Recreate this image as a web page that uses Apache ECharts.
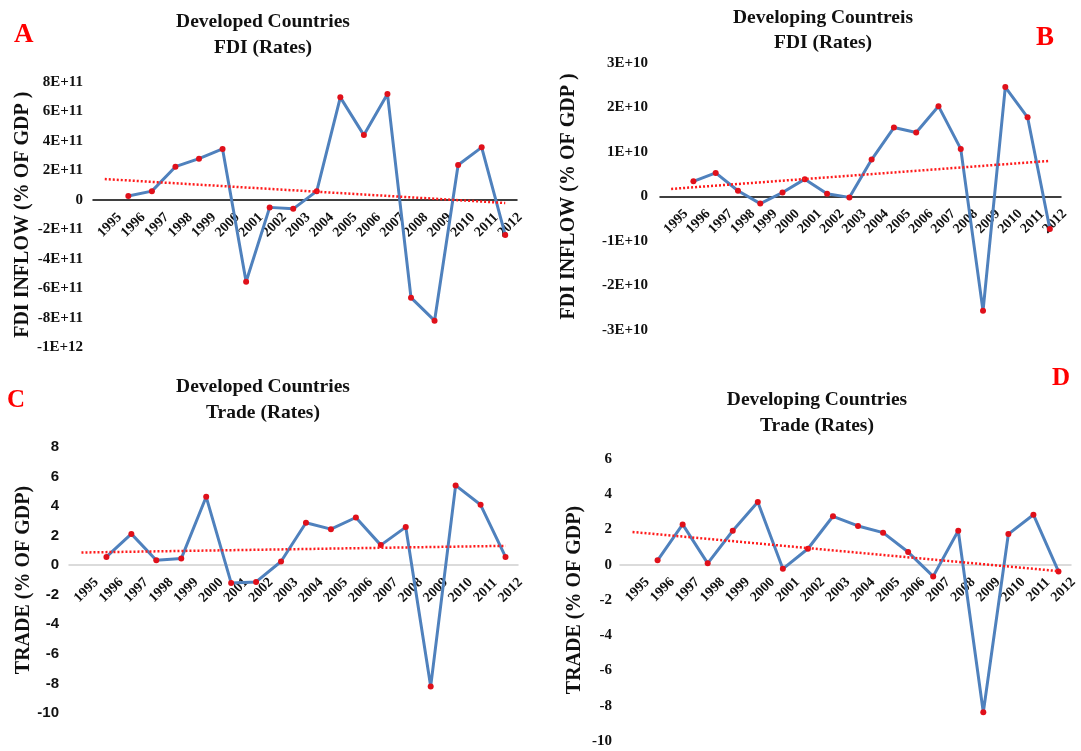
<!DOCTYPE html>
<html>
<head>
<meta charset="utf-8">
<script src="https://cdn.jsdelivr.net/npm/echarts@6/dist/echarts.min.js"></script>
<style>
  html, body { margin: 0; padding: 0; background: #fff; }
  #chart { width: 1081px; height: 751px; }
</style>
</head>
<body>
<div id="chart"></div>
<script>
  // categories
  const years = ['1995', '1996', '1997', '1998', '1999', '2000', '2001', '2002', '2003',
    '2004', '2005', '2006', '2007', '2008', '2009', '2010', '2011', '2012']

  // series values (1995 has no point)
  const fdiDeveloped = [null, 0.27e11, 0.6e11, 2.26e11, 2.8e11, 3.46e11, -5.54e11, -0.5e11, -0.6e11,
    0.6e11, 6.96e11, 4.4e11, 7.19e11, -6.62e11, -8.18e11, 2.37e11, 3.57e11, -2.37e11]
  const fdiDeveloping = [null, 0.34e10, 0.53e10, 0.13e10, -0.16e10, 0.09e10, 0.39e10, 0.06e10, -0.02e10,
    0.83e10, 1.55e10, 1.44e10, 2.03e10, 1.07e10, -2.57e10, 2.46e10, 1.78e10, -0.73e10]
  const tradeDeveloped = [null, 0.56, 2.12, 0.34, 0.45, 4.63, -1.2, -1.13, 0.25,
    2.87, 2.44, 3.23, 1.36, 2.58, -8.2, 5.4, 4.09, 0.56]
  const tradeDeveloping = [null, 0.25, 2.29, 0.08, 1.93, 3.56, -0.23, 0.91, 2.75,
    2.2, 1.82, 0.72, -0.66, 1.93, -8.37, 1.74, 2.84, -0.38]

  // linear trend lines, value at 1995 and at 2012
  const trendA = [1.42e11, -0.2e11]
  const trendB = [0.17e10, 0.8e10]
  const trendC = [0.86, 1.31]
  const trendD = [1.86, -0.36]

  // y axis ranges: [min, max, interval]
  const rangeA = [-1e12, 8e11, 2e11]
  const rangeB = [-3e10, 3e10, 1e10]
  const rangeC = [-10, 8, 2]
  const rangeD = [-10, 6, 2]

  const serif = '"Liberation Serif", "Times New Roman", serif'
  const sans = '"Liberation Sans", Arial, sans-serif'

  function sci(v) {
    if (v === 0) return '0'
    const e = Math.floor(Math.log10(Math.abs(v)) + 1e-9)
    const m = Math.round(v / Math.pow(10, e))
    return m + 'E+' + e
  }

  function trendData(t) {
    return years.map((y, i) => i === 0 ? t[0] : (i === years.length - 1 ? t[1] : null))
  }

  const panels = [
    { grid: { left: 93, top: 82, width: 424, height: 265.5 }, data: fdiDeveloped, trend: trendA, range: rangeA,
      name: 'FDI INFLOW (% OF GDP )', nameGap: 60, fmt: sci, labelFont: serif, axisColor: '#000', labelMargin: 10 },
    { grid: { left: 660, top: 63, width: 401, height: 267 }, data: fdiDeveloping, trend: trendB, range: rangeB,
      name: 'FDI INFLOW (% OF GDP )', nameGap: 81, fmt: sci, labelFont: serif, axisColor: '#000', labelMargin: 12 },
    { grid: { left: 69, top: 447, width: 449, height: 266 }, data: tradeDeveloped, trend: trendC, range: rangeC,
      name: 'TRADE (% OF GDP)', nameGap: 35, fmt: null, labelFont: sans, axisColor: '#d0d0d0', labelMargin: 10 },
    { grid: { left: 620, top: 459, width: 451, height: 282 }, data: tradeDeveloping, trend: trendD, range: rangeD,
      name: 'TRADE (% OF GDP)', nameGap: 35, fmt: null, labelFont: serif, axisColor: '#d0d0d0', labelMargin: 8 },
  ]

  const chart = echarts.init(document.getElementById('chart'))

  const option = {
    backgroundColor: '#fff',
    animation: false,
    grid: panels.map(p => p.grid),
    xAxis: panels.map((p, i) => ({
      type: 'category',
      gridIndex: i,
      data: years,
      boundaryGap: true,
      // place the category axis (line and labels) on the zero value
      offset: -p.grid.height * (-p.range[0]) / (p.range[1] - p.range[0]),
      axisLine: { onZero: false, lineStyle: { color: p.axisColor, width: 1.5 } },
      axisTick: { show: false },
      axisLabel: {
        interval: 0, rotate: 45, margin: 30,
        align: 'center', verticalAlign: 'middle', padding: [0, 0, 0, 14],
        color: '#111', fontFamily: serif, fontWeight: 'bold', fontSize: 14
      },
      splitLine: { show: false }
    })),
    yAxis: panels.map((p, i) => ({
      type: 'value',
      gridIndex: i,
      min: p.range[0], max: p.range[1], interval: p.range[2],
      axisLine: { show: false },
      axisTick: { show: false },
      splitLine: { show: false },
      axisLabel: {
        margin: p.labelMargin,
        color: '#111', fontFamily: p.labelFont, fontWeight: 'bold', fontSize: 15,
        formatter: p.fmt || (v => String(v))
      },
      name: p.name,
      nameLocation: 'middle',
      nameGap: p.nameGap,
      nameTextStyle: { color: '#111', fontFamily: serif, fontWeight: 'bold', fontSize: 20 }
    })),
    series: [].concat(...panels.map((p, i) => [
      {
        type: 'line',
        xAxisIndex: i, yAxisIndex: i,
        data: p.data,
        symbol: 'circle',
        symbolSize: 6,
        itemStyle: { color: '#e0101a' },
        lineStyle: { color: '#4f81bd', width: 3 },
        z: 3
      },
      {
        type: 'line',
        xAxisIndex: i, yAxisIndex: i,
        data: trendData(p.trend),
        connectNulls: true,
        symbol: 'none',
        lineStyle: { color: '#ff1a1a', width: 2.5, type: [2, 2] },
        z: 4
      }
    ])),
    graphic: [
      { type: 'text', left: 14, top: 22, style: { text: 'A', fill: '#ff0000', font: 'bold 27px ' + serif } },
      { type: 'text', left: 1036, top: 25, style: { text: 'B', fill: '#ff0000', font: 'bold 27px ' + serif } },
      { type: 'text', left: 7, top: 388, style: { text: 'C', fill: '#ff0000', font: 'bold 25px ' + serif } },
      { type: 'text', left: 1052, top: 366, style: { text: 'D', fill: '#ff0000', font: 'bold 25px ' + serif } },
      { type: 'text', x: 263, y: 22, style: { text: 'Developed Countries', fill: '#111', font: 'bold 19.5px ' + serif, textAlign: 'center', textVerticalAlign: 'middle' } },
      { type: 'text', x: 263, y: 48, style: { text: 'FDI (Rates)', fill: '#111', font: 'bold 19.5px ' + serif, textAlign: 'center', textVerticalAlign: 'middle' } },
      { type: 'text', x: 823, y: 18, style: { text: 'Developing Countreis', fill: '#111', font: 'bold 19.5px ' + serif, textAlign: 'center', textVerticalAlign: 'middle' } },
      { type: 'text', x: 823, y: 43, style: { text: 'FDI (Rates)', fill: '#111', font: 'bold 19.5px ' + serif, textAlign: 'center', textVerticalAlign: 'middle' } },
      { type: 'text', x: 263, y: 387, style: { text: 'Developed Countries', fill: '#111', font: 'bold 19.5px ' + serif, textAlign: 'center', textVerticalAlign: 'middle' } },
      { type: 'text', x: 263, y: 413, style: { text: 'Trade (Rates)', fill: '#111', font: 'bold 19.5px ' + serif, textAlign: 'center', textVerticalAlign: 'middle' } },
      { type: 'text', x: 817, y: 400, style: { text: 'Developing Countries', fill: '#111', font: 'bold 19.5px ' + serif, textAlign: 'center', textVerticalAlign: 'middle' } },
      { type: 'text', x: 817, y: 426, style: { text: 'Trade (Rates)', fill: '#111', font: 'bold 19.5px ' + serif, textAlign: 'center', textVerticalAlign: 'middle' } }
    ]
  }

  chart.setOption(option)
</script>
</body>
</html>
